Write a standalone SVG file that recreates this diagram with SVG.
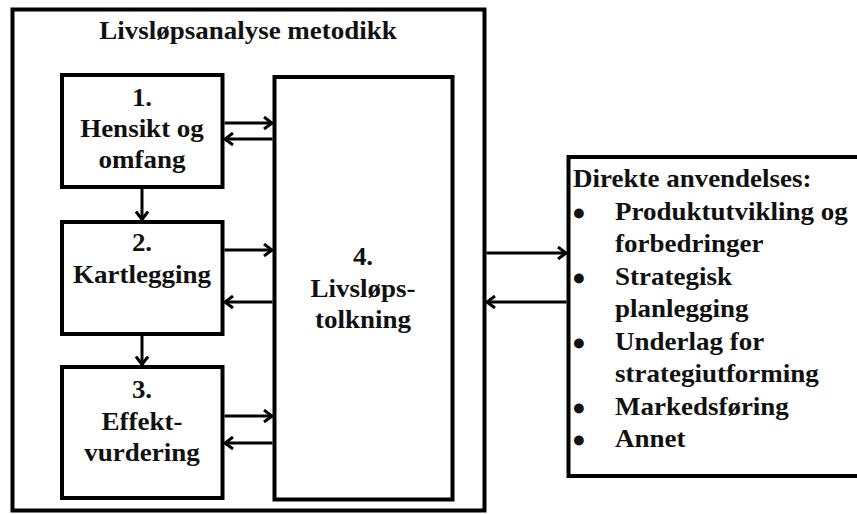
<svg xmlns="http://www.w3.org/2000/svg" width="857" height="514" viewBox="0 0 857 514">
<defs>
<style>
.box{fill:#fff;stroke:#000;stroke-width:4}
.t{font-family:"Liberation Serif","Times New Roman",serif;font-weight:bold;font-size:25px;fill:#111}
.c{text-anchor:middle}
.b{font-family:"Liberation Serif","Times New Roman",serif;font-weight:bold;font-size:25px;fill:#111;stroke:#111;stroke-width:3}
.ar{stroke:#000;stroke-width:3;fill:none;marker-end:url(#ah)}
</style>
<marker id="ah" viewBox="0 0 10 14" refX="9" refY="7" markerWidth="10" markerHeight="14" markerUnits="userSpaceOnUse" orient="auto">
<path d="M1,1 L9,7 L1,13" fill="none" stroke="#000" stroke-width="3"/>
</marker>
</defs>
<rect width="857" height="514" fill="#fff"/>
<g id="outer">
<rect class="box" x="12.5" y="9.5" width="472" height="501"/>
<text class="t c" transform="translate(248 39) scale(1.08 1)">Livsløpsanalyse metodikk</text>
</g>
<g id="n1">
<rect class="box" x="62" y="75" width="160.5" height="112"/>
<text class="t c" transform="translate(142 106) scale(1.08 1)">1.</text>
<text class="t c" transform="translate(142 137) scale(1.08 1)">Hensikt og</text>
<text class="t c" transform="translate(142 168) scale(1.08 1)">omfang</text>
</g>
<g id="n2">
<rect class="box" x="62" y="222" width="160.5" height="112"/>
<text class="t c" transform="translate(142 251) scale(1.08 1)">2.</text>
<text class="t c" transform="translate(142 283) scale(1.08 1)">Kartlegging</text>
</g>
<g id="n3">
<rect class="box" x="62" y="367" width="160.5" height="131"/>
<text class="t c" transform="translate(142 398) scale(1.08 1)">3.</text>
<text class="t c" transform="translate(142 430) scale(1.08 1)">Effekt-</text>
<text class="t c" transform="translate(142 461) scale(1.08 1)">vurdering</text>
</g>
<g id="n4">
<rect class="box" x="274.5" y="77" width="178" height="422.5"/>
<text class="t c" transform="translate(363 265) scale(1.08 1)">4.</text>
<text class="t c" transform="translate(363 297) scale(1.08 1)">Livsløps-</text>
<text class="t c" transform="translate(363 328) scale(1.08 1)">tolkning</text>
</g>
<g id="n5">
<rect class="box" x="568.5" y="157" width="292" height="319"/>
<text class="t" transform="translate(573 187) scale(1.08 1)">Direkte anvendelses:</text>
<g class="b">
<text x="574.5" y="222">•</text>
<text x="574.5" y="287">•</text>
<text x="574.5" y="352">•</text>
<text x="574.5" y="417">•</text>
<text x="574.5" y="449">•</text>
</g>
<text class="t" transform="translate(615 220) scale(1.08 1)">Produktutvikling og</text>
<text class="t" transform="translate(615 252) scale(1.08 1)">forbedringer</text>
<text class="t" transform="translate(615 285) scale(1.08 1)">Strategisk</text>
<text class="t" transform="translate(615 317) scale(1.08 1)">planlegging</text>
<text class="t" transform="translate(615 350) scale(1.08 1)">Underlag for</text>
<text class="t" transform="translate(615 382) scale(1.08 1)">strategiutforming</text>
<text class="t" transform="translate(615 415) scale(1.08 1)">Markedsføring</text>
<text class="t" transform="translate(615 447) scale(1.08 1)">Annet</text>
</g>
<g id="connectors">
<line class="ar" x1="224.5" y1="123" x2="272" y2="123"/>
<line class="ar" x1="272.5" y1="139" x2="225" y2="139"/>
<line class="ar" x1="224.5" y1="250" x2="272" y2="250"/>
<line class="ar" x1="272.5" y1="302" x2="225" y2="302"/>
<line class="ar" x1="224.5" y1="416" x2="272" y2="416"/>
<line class="ar" x1="272.5" y1="443" x2="225" y2="443"/>
<line class="ar" x1="142" y1="189" x2="142" y2="219.5"/>
<line class="ar" x1="142" y1="336" x2="142" y2="364.5"/>
<line class="ar" x1="486.5" y1="253" x2="566" y2="253"/>
<line class="ar" x1="566.5" y1="302" x2="487" y2="302"/>
</g>
</svg>
